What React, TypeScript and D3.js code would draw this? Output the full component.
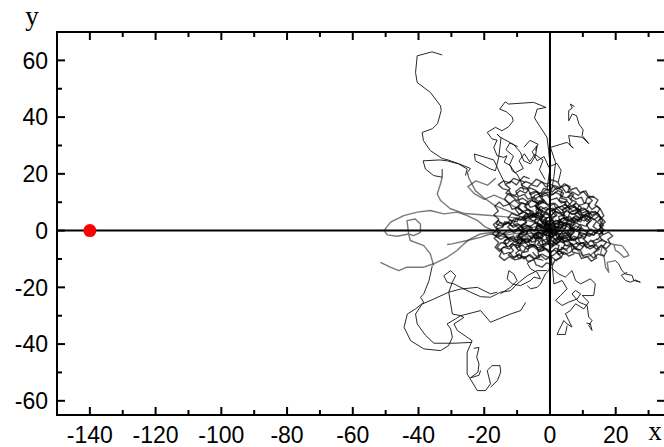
import React from "react";
import * as d3 from "d3";

type Pt = [number, number];

// Axis ranges and ticks
const xDomain: Pt = [-150, 35];
const yDomain: Pt = [-65, 70];
const xMajorTicks = [-140, -120, -100, -80, -60, -40, -20, 0, 20];
const xMinorTicks = [-150, -130, -110, -90, -70, -50, -30, -10, 10, 30];
const yMajorTicks = [-60, -40, -20, 0, 20, 40, 60];
const yMinorTicks = [-50, -30, -10, 10, 30, 50];

// Source position
const sourcePoints: Pt[] = [[-140, 0]];

// Dense tracks around the origin
const cloud1: Pt[] = [[0,0],[1.5,1.2],[3,0.4],[4.2,2.1],[3.1,3.8],[1.2,3.1],[0.3,4.9],[-1.6,4.2],[-2.4,2.3],[-4.1,1.6],[-3.5,-0.4],[-5.2,-1.5],[-4.4,-3.2],[-2.6,-2.5],[-1.4,-4.1],[0.5,-3.3],[1.9,-4.6],[3.4,-3.1],[2.6,-1.4],[4.5,-0.8],[6.1,-2.2],[7.4,-0.6],[6.3,1.1],[7.9,2.6],[6.6,4.3],[4.8,3.6],[4.1,5.5],[2.2,6.3],[0.9,7.9],[-1.1,7.2],[-2.8,8.5],[-4.3,7.1],[-3.4,5.4],[-5.6,4.6],[-7.1,6.2],[-8.4,4.5],[-7.2,2.8],[-8.9,1.4],[-7.8,-0.5],[-9.6,-1.8],[-8.5,-3.6],[-6.7,-2.9],[-6.1,-4.8],[-4.2,-5.6],[-3.3,-7.4],[-1.4,-6.5],[0.2,-7.8],[1.6,-6.2],[3.5,-6.9],[4.4,-5.1]];
const cloud2: Pt[] = [[0,0],[-1.2,-1.6],[0.6,-2.4],[2.1,-1.1],[1.4,0.8],[3.2,1.9],[2.4,3.5],[4.1,4.4],[5.8,3.2],[7.2,4.8],[8.6,3.5],[10.1,4.9],[11.3,3.2],[12.7,4.6],[14.2,3.3],[13.1,1.5],[14.6,0.2],[13.4,-1.5],[11.6,-0.8],[10.4,-2.4],[8.8,-1.3],[9.5,0.7],[7.9,1.6],[6.4,0.3],[5.1,1.7],[3.9,-0.2],[2.2,-2.8],[3.8,-4.2],[5.6,-3.6],[6.9,-5.1],[8.4,-4.2],[9.9,-5.6],[11.2,-4.1],[10.1,-2.9]];
const cloud3: Pt[] = [[0,0],[-0.8,1.9],[-2.5,0.9],[-3.9,2.8],[-2.9,4.6],[-4.6,5.9],[-6.3,4.7],[-7.5,6.6],[-9.4,5.8],[-10.6,7.7],[-9.2,9.3],[-10.8,10.8],[-12.4,9.4],[-13.8,11.2],[-12.6,13.1],[-10.7,12.4],[-9.1,14.1],[-7.3,13.2],[-6.2,15.1],[-4.3,14.2],[-3.1,12.3],[-4.8,10.9],[-3.5,9.1],[-1.7,10.2],[-0.4,8.5],[1.5,9.6],[2.8,8.1],[4.6,9.2],[5.9,7.6],[7.7,8.5],[8.9,6.8],[10.8,7.6],[11.9,5.9],[13.7,6.8],[15.1,5.4]];
const cloud4: Pt[] = [[0,0],[0.9,-1.7],[-0.6,-3.5],[1.1,-5.2],[-0.3,-6.9],[-2.1,-5.8],[-3.7,-6.9],[-5.2,-5.5],[-6.9,-6.6],[-8.4,-5.1],[-10.1,-6.2],[-11.3,-4.6],[-12.9,-5.8],[-14.2,-4.1],[-12.8,-2.6],[-14.1,-0.9],[-12.4,0.3],[-10.8,-0.8],[-9.6,0.9],[-11.1,2.5],[-10.2,4.3],[-8.1,3.6],[-6.8,5.1],[-5.3,3.4],[-3.6,4.1]];
const cloud5: Pt[] = [[0,0],[2.1,-0.6],[2.8,1.3],[4.6,0.6],[5.3,2.4],[7.1,1.8],[7.6,3.9],[9.4,3.1],[9.9,5.2],[8.4,6.4],[9.6,8.1],[8.1,9.6],[6.4,8.7],[5.2,10.4],[3.4,9.7],[2.1,11.5],[0.3,10.8],[-0.9,12.6],[-2.7,11.9],[-3.9,13.7],[-5.8,12.8],[-6.9,14.9],[-8.7,16.1],[-7.4,17.3],[-5.5,16.4],[-4.2,18.1],[-2.4,17.2],[-1.3,15.4],[0.6,16.2],[1.9,14.5],[3.7,15.3],[4.8,13.4],[6.6,14.1]];
const cloud6: Pt[] = [[0,0],[-1.9,-0.7],[-3.1,0.9],[-4.9,0.1],[-6.2,1.7],[-7.9,0.6],[-9.4,2.2],[-11.2,1.1],[-12.6,2.9],[-14.3,1.8],[-15.7,3.6],[-17.2,2.1],[-16.1,0.4],[-17.6,-1.2],[-15.8,-2.4],[-14.4,-1.1],[-12.9,-2.8],[-11.1,-1.9],[-10.3,-3.7],[-8.6,-2.6],[-7.4,-4.3],[-5.6,-3.4],[-4.7,-1.6],[-2.9,-2.3],[-2.1,-4.1]];
const cloud7: Pt[] = [[0,0],[1.3,1.9],[0.2,3.6],[1.8,5.2],[0.6,6.9],[2.3,8.4],[3.9,7.1],[5.4,8.6],[6.8,10.3],[5.5,11.9],[6.9,13.6],[8.6,12.4],[10.1,13.9],[11.4,12.1],[12.9,10.6],[11.6,9.1],[12.8,7.4],[14.3,8.7],[15.6,7.1],[16.4,5.2],[15.1,3.6],[16.3,1.8],[14.9,0.4],[16.1,-1.3],[14.6,-2.9],[12.9,-3.7],[13.8,-5.4],[12.1,-6.5],[10.6,-5.2],[9.2,-6.8],[7.4,-6.1],[6.1,-7.7],[4.3,-8.4],[2.8,-7.1],[1.1,-8.6],[-0.6,-9.4],[-2.4,-8.3],[-4.1,-9.1],[-5.3,-7.6]];
const cloud8: Pt[] = [[0,0],[-1.1,1.4],[0.4,2.2],[-0.7,3.3],[-2.2,2.6],[-3.2,4],[-1.8,5.1],[-3.1,6.4],[-4.9,5.6],[-6.1,7.2],[-7.8,8.4],[-6.7,10.1],[-8.3,11.4],[-10.1,10.6],[-11.6,12.1],[-13.4,13.2],[-12.1,14.8],[-13.6,16.2],[-11.8,17.4],[-10.2,16.1],[-9.1,17.8],[-7.5,16.9]];
const cloud9: Pt[] = [[0,0],[0.8,-1.3],[2.4,-0.9],[3.1,-2.5],[4.9,-2],[5.8,-3.6],[7.6,-3.1],[8.3,-4.8],[10.2,-4.3],[11.1,-6.1],[12.8,-5.2],[14.2,-6.7],[15.6,-5.1],[17.1,-6.4],[18.4,-4.8],[17.6,-3.1],[19.1,-1.9],[17.8,-0.5],[16.2,-1.4],[15.4,0.3],[13.9,-0.9],[12.5,0.6],[11.1,-0.7],[9.7,0.9],[8.1,-0.2],[6.8,1.3]];
const cloud10: Pt[] = [[0,0],[-0.5,-1.8],[-2.3,-1.2],[-3.4,-2.7],[-5.1,-2.1],[-6.4,-3.6],[-8.2,-2.9],[-9.1,-4.6],[-10.9,-3.8],[-12.2,-5.4],[-11.1,-7.1],[-12.7,-8.6],[-10.9,-9.7],[-9.4,-8.2],[-7.8,-9.6],[-6.1,-8.4],[-4.6,-9.9],[-2.9,-8.7],[-1.3,-10.2],[0.4,-9.1],[1.9,-10.6],[3.3,-9.2],[2.1,-7.5],[3.8,-6.2],[5.4,-7.3]];
const cloud11: Pt[] = [[0,0],[1.6,0.8],[1.1,2.6],[-0.6,2.1],[-1.4,3.8],[0.1,5.3],[-1.2,6.6],[-2.9,7.1],[-3.6,9.2],[-1.9,10.4],[-2.6,12.3],[-0.8,13.6],[0.9,12.7],[2.4,14.1],[4.1,13.2],[3.5,11.4],[5.2,10.8],[4.4,9.1],[6.1,8.4],[5.6,6.5],[7.3,5.8],[8.8,6.9],[10.1,5.3],[11.6,6.4],[12.4,4.5]];
const cloud12: Pt[] = [[0,0],[-1.4,0.6],[-1.9,-1.1],[-3.6,-0.6],[-4.3,-2.2],[-2.8,-3.4],[-3.9,-4.9],[-2.2,-5.8],[-0.7,-4.7],[0.8,-5.6],[2.3,-4.4],[1.6,-2.9],[3.4,-2.1],[4.1,-3.8],[5.9,-3.1],[6.6,-1.4],[5.2,-0.4],[6.7,0.9],[5.4,2.3],[3.9,1.6],[3.2,3.1],[1.5,2.4],[0.6,3.9],[-1.1,3.2]];
const cloud13: Pt[] = [[0,0],[1.8,-1.1],[3.5,0.2],[5.3,-0.9],[6.2,0.9],[8.1,0.4],[9.2,2.2],[11.0,1.5],[12.1,3.3],[10.6,4.8],[11.8,6.5],[10.2,7.9],[8.5,7.1],[7.3,8.8],[5.4,8.1],[4.6,9.9],[2.7,10.6],[3.5,12.4],[1.7,13.5],[0.1,12.2],[-1.6,13.4],[-3.2,12.1],[-2.1,10.4],[-3.9,9.6],[-5.6,10.7],[-6.8,9.1],[-8.6,9.8],[-9.7,8.1],[-8.3,6.6],[-9.9,5.2],[-11.6,6.1],[-12.8,4.4],[-11.4,2.9],[-12.9,1.3],[-11.3,-0.1],[-9.6,0.8],[-8.2,-0.7],[-6.4,0.1],[-5.1,-1.4],[-3.3,-0.6],[-2.2,-2.1]];
const cloud14: Pt[] = [[0,0],[-1.7,1.3],[-0.9,3.1],[-2.6,4.2],[-1.5,5.9],[0.3,5.1],[1.6,6.8],[3.4,6.1],[4.3,4.3],[6.1,4.9],[7.2,3.1],[6.0,1.5],[7.6,0.1],[6.3,-1.5],[4.5,-0.8],[3.7,-2.6],[1.9,-3.3],[0.8,-5.1],[-1.0,-4.3],[-2.8,-5.2],[-3.6,-3.4],[-5.5,-4.1],[-6.8,-2.6],[-8.6,-3.3],[-9.4,-1.4],[-7.9,0.1],[-8.8,1.9],[-7.1,3.0],[-7.9,4.8],[-6.2,6.1],[-4.4,5.4],[-3.3,7.2],[-4.6,8.8],[-3.1,10.3],[-1.3,9.5]];
const cloud15: Pt[] = [[0,0],[0.6,1.9],[2.4,1.2],[2.9,3.1],[4.8,2.5],[5.6,4.3],[4.1,5.7],[5.2,7.4],[3.6,8.6],[1.8,7.8],[1.1,9.7],[-0.8,9.2],[-1.9,10.9],[-3.7,10.3],[-4.9,11.9],[-6.7,11.1],[-7.8,12.8],[-9.6,12.0],[-10.4,13.8],[-8.9,15.2],[-7.1,14.6],[-5.8,16.2],[-3.9,15.5],[-2.7,17.1],[-0.8,16.4],[0.6,17.9],[2.4,17.1],[3.2,15.3],[5.1,16.0],[6.3,14.4],[8.0,15.1],[9.1,13.4],[10.9,14.0],[11.7,12.2],[13.5,11.6]];
const cloud16: Pt[] = [[0,0],[-2.0,0.4],[-2.8,2.2],[-4.7,2.9],[-4.1,4.8],[-5.9,5.5],[-7.4,4.1],[-9.2,4.9],[-10.1,3.1],[-12.0,3.7],[-13.4,2.2],[-15.2,2.9],[-16.3,1.2],[-15.1,-0.4],[-16.6,-1.9],[-15.0,-3.1],[-13.3,-2.1],[-12.1,-3.8],[-10.2,-3.1],[-9.3,-4.9],[-7.5,-4.2],[-6.2,-5.8],[-4.4,-5.1],[-3.5,-6.9],[-1.6,-6.2],[-0.3,-7.7],[1.5,-6.9],[2.6,-8.4],[4.4,-7.6],[5.7,-9.0],[7.5,-8.1]];
const cloud17: Pt[] = [[0,0],[1.2,-1.7],[3.0,-1.0],[4.1,-2.8],[5.9,-2.1],[7.3,-3.6],[8.7,-2.2],[10.5,-2.9],[11.4,-1.1],[13.2,-1.7],[14.5,-0.1],[15.8,1.6],[14.4,3.0],[15.6,4.7],[13.9,5.8],[12.4,4.4],[10.8,5.6],[9.3,4.1],[7.6,5.1],[6.5,3.4],[4.8,4.3],[3.4,2.8],[1.7,3.7],[0.6,2.0],[-1.2,2.8],[-2.1,1.0],[-3.9,1.7],[-4.6,-0.1],[-6.4,0.5],[-7.2,-1.3]];
const cloud18: Pt[] = [[0,0],[-0.4,-2.0],[1.4,-2.7],[0.9,-4.6],[2.8,-5.2],[2.2,-7.1],[4.1,-7.7],[3.4,-9.6],[1.6,-10.3],[0.8,-12.1],[-1.1,-11.4],[-2.4,-12.9],[-4.2,-12.1],[-4.9,-10.3],[-6.8,-10.9],[-7.7,-9.1],[-9.6,-9.7],[-10.4,-7.9],[-8.9,-6.6],[-9.8,-4.8],[-8.1,-3.9],[-8.7,-2.0],[-6.9,-1.2],[-5.6,-2.7],[-4.1,-1.4],[-2.6,-2.9],[-1.5,-1.2]];
const cloud19: Pt[] = [[0,0],[1.9,0.5],[1.3,2.4],[3.2,3.0],[2.6,4.9],[4.4,5.6],[3.7,7.5],[5.5,8.3],[6.9,6.9],[8.6,7.8],[9.8,6.2],[11.6,7.0],[12.7,5.4],[14.4,6.3],[15.5,4.6],[16.8,3.0],[15.3,1.6],[16.4,-0.1],[14.9,-1.6],[15.8,-3.4],[14.1,-4.4],[12.4,-3.4],[11.2,-5.1],[9.4,-4.3],[8.1,-5.9],[6.4,-5.0],[5.1,-6.6],[3.3,-5.8]];
const cloud20: Pt[] = [[0,0],[-1.3,-1.5],[-3.2,-0.9],[-3.9,-2.8],[-5.8,-2.3],[-6.6,-4.1],[-8.5,-3.6],[-9.2,-5.5],[-11.1,-4.9],[-12.3,-6.5],[-14.1,-5.8],[-15.3,-7.4],[-16.7,-5.9],[-15.6,-4.2],[-17.0,-2.7],[-15.5,-1.4],[-16.2,0.5],[-14.4,1.2],[-13.8,3.1],[-11.9,2.6],[-10.8,4.3],[-9.0,3.6],[-7.7,5.1],[-6.0,4.3],[-4.6,5.8],[-2.9,4.9],[-1.4,6.3],[0.3,5.3],[1.6,6.8]];
const cloud21: Pt[] = [[0,0],[0.4,2.0],[-1.5,2.6],[-1.0,4.5],[-2.9,5.2],[-2.3,7.1],[-4.2,7.8],[-3.6,9.7],[-5.4,10.5],[-4.7,12.4],[-2.8,13.1],[-1.9,14.9],[0.0,14.3],[1.2,15.9],[3.0,15.1],[4.4,16.5],[6.1,15.5],[5.4,13.6],[7.2,12.8],[6.3,11.0],[8.0,10.1],[7.0,8.4],[8.7,7.3],[7.6,5.6],[9.2,4.4],[8.1,2.7],[9.6,1.4],[8.4,-0.2],[9.8,-1.6]];
const cloud22: Pt[] = [[0,0],[1.6,-0.9],[2.2,-2.8],[4.1,-3.3],[4.6,-5.2],[6.5,-5.7],[6.9,-7.6],[8.8,-8.1],[9.6,-9.9],[11.4,-9.2],[12.6,-10.8],[14.2,-9.6],[13.4,-7.8],[15.0,-6.6],[14.0,-4.9],[12.2,-5.6],[11.1,-3.9],[9.3,-4.6],[8.5,-2.8],[6.6,-3.3],[6.0,-1.4],[4.1,-1.9],[3.4,0.0],[1.5,-0.6]];
const cloud23: Pt[] = [[0,0],[-1.8,0.9],[-1.2,2.8],[-3.0,3.6],[-2.2,5.4],[-3.9,6.4],[-5.7,5.6],[-6.5,7.4],[-8.4,6.8],[-9.7,8.3],[-11.5,7.5],[-12.3,9.3],[-14.1,8.6],[-15.4,10.1],[-16.8,8.6],[-15.7,6.9],[-17.1,5.5],[-15.6,4.1],[-16.3,2.3],[-14.5,1.5],[-13.1,2.9],[-11.6,1.6],[-9.9,2.5],[-8.6,1.0],[-6.8,1.8],[-5.5,0.3]];
const cloud24: Pt[] = [[0,0],[0.7,-1.9],[-1.1,-2.6],[-0.5,-4.5],[-2.4,-5.0],[-1.8,-6.9],[-3.7,-7.5],[-3.1,-9.4],[-4.9,-10.0],[-6.4,-8.7],[-7.9,-10.0],[-9.4,-8.6],[-11.2,-9.3],[-12.3,-7.7],[-14.1,-8.3],[-14.9,-6.4],[-13.2,-5.4],[-13.8,-3.5],[-12.0,-2.8],[-10.5,-4.1],[-9.0,-2.8],[-7.3,-3.8]];
const cloud25: Pt[] = [[0,0],[-1.0,1.8],[0.8,2.7],[0.2,4.6],[2.1,5.3],[1.4,7.2],[-0.5,7.9],[-1.6,6.2],[-3.4,7.0],[-4.1,8.9],[-6.0,8.2],[-6.9,10.0],[-5.3,11.3],[-6.2,13.1],[-4.4,13.9],[-2.6,13.0],[-1.1,14.5],[0.7,13.6],[2.0,15.1],[3.8,14.2],[3.1,12.3],[4.9,11.5],[6.6,12.4],[7.9,11.0],[9.6,11.8],[10.3,9.9],[12.1,9.4],[11.2,7.6]];
const cloud26: Pt[] = [[0,0],[1.4,1.5],[3.2,0.8],[4.0,2.6],[5.9,2.0],[6.8,-0.1],[5.3,-1.5],[6.4,-3.2],[8.3,-2.5],[9.1,-0.6],[10.9,-1.3],[12.0,0.4],[11.1,2.2],[12.6,3.6],[11.4,5.2],[9.6,4.6],[8.5,6.3],[6.7,5.7],[5.2,7.0],[3.5,6.2],[2.1,7.7],[0.3,6.9],[-1.2,8.2],[-2.9,7.4],[-4.5,8.6]];
const cloud27: Pt[] = [[0,0],[-1.6,-1.1],[-0.7,-2.9],[-2.5,-3.6],[-1.9,-5.5],[-3.8,-6.1],[-5.4,-4.9],[-7.2,-5.6],[-8.0,-7.4],[-9.8,-6.7],[-10.5,-4.9],[-9.0,-3.5],[-10.2,-1.9],[-8.6,-0.7],[-9.5,1.1],[-7.8,2.2],[-6.1,1.3],[-4.6,2.7],[-3.0,1.5],[-1.3,2.4],[0.1,1.0]];
const cloud28: Pt[] = [[0,0],[2.0,0.3],[2.7,2.2],[4.6,1.7],[5.6,3.5],[7.4,2.8],[8.7,4.3],[10.4,3.4],[11.8,4.9],[13.4,3.8],[14.9,5.1],[16.1,3.4],[15.0,1.7],[16.5,0.3],[15.1,-1.2],[13.3,-0.4],[12.1,-2.0],[10.3,-1.2],[9.0,-2.8],[7.2,-2.0],[5.8,-3.4],[4.1,-2.5],[2.7,-3.9],[1.0,-2.8]];
const cloud29: Pt[] = [[0,0],[-0.3,2.0],[-2.2,2.5],[-2.8,4.4],[-4.7,4.9],[-5.2,6.8],[-7.1,7.3],[-7.4,9.3],[-9.3,9.9],[-9.8,11.8],[-11.7,12.4],[-12.5,14.2],[-14.4,14.8],[-15.7,16.2],[-14.2,17.5],[-12.3,16.8],[-11.1,18.4],[-9.2,17.6],[-8.0,19.1],[-6.2,18.3]];
const cloud30: Pt[] = [[0,0],[0.9,1.8],[2.7,2.4],[3.6,4.2],[5.5,4.7],[6.2,6.6],[8.1,7.1],[8.9,8.9],[10.7,9.6],[11.3,11.5],[13.1,12.1],[14.6,10.8],[13.7,9.0],[15.3,7.8],[14.3,6.1],[12.5,6.8],[11.6,5.0],[9.7,5.6],[8.9,3.8],[7.0,4.3],[6.3,2.4],[4.4,2.9],[3.8,1.0],[1.9,1.4]];
const cloud31: Pt[] = [[0,0],[-1.9,-0.4],[-2.4,-2.3],[-4.3,-2.8],[-4.6,-4.8],[-6.5,-5.3],[-6.7,-7.3],[-8.6,-7.8],[-8.8,-9.8],[-10.7,-10.3],[-12.4,-9.2],[-13.9,-10.5],[-15.4,-9.1],[-14.6,-7.3],[-16.1,-5.9],[-14.9,-4.3],[-12.9,-4.6],[-12.0,-2.8],[-10.0,-3.1],[-9.3,-1.2],[-7.3,-1.5],[-6.7,0.4],[-4.7,0.0],[-3.9,1.8]];
const cloud32: Pt[] = [[0,0],[1.1,-1.7],[0.1,-3.4],[1.8,-4.6],[3.6,-3.8],[4.9,-5.3],[6.7,-4.5],[7.4,-6.4],[9.3,-6.9],[10.0,-8.8],[11.9,-8.2],[13.2,-9.7],[14.6,-8.3],[16.4,-9.0],[17.3,-7.2],[16.0,-5.7],[17.2,-4.1],[15.6,-2.9]];

// Fainter tracks leaving the cluster
const faintWest: Pt[] = [[0,0],[-4,1.5],[-8,0.5],[-12,-0.5],[-14,-1.1],[-17.1,0],[-19.6,1.2],[-22.1,3.6],[-25.2,5.3],[-28.2,6.5],[-32.3,5.9],[-36.4,7.1],[-40.4,6.5],[-44.5,5.3],[-48.5,3.0],[-50.5,0],[-49.5,-1.5],[-46.5,-2.0],[-43.0,-1.2],[-41.5,-1.8],[-39.4,-0.6],[-39.4,2.3],[-41.0,4.1],[-43.5,3.5],[-43.0,-1.2],[-42.5,-3.5],[-38.4,-5.3],[-36.4,-8.2],[-35.4,-12.3]];
const faintSouthWest: Pt[] = [[0,0],[-5,-1],[-9,-0.8],[-13,-1.5],[-17.1,-0.6],[-21.2,-1.2],[-24.2,-2.9],[-26.2,-4.7],[-28.3,-7.0],[-31.3,-9.4],[-35.4,-11.7],[-38.4,-12.9],[-43.5,-12.9],[-46.0,-14.1],[-48.6,-12.9],[-51.6,-11.2]];
const faintLow: Pt[] = [[0,0],[-6,-2],[-12,-2.5],[-18.1,-1.2],[-21.2,-2.4],[-25.2,-3.5],[-29.8,-4.7],[-31.3,-4.9]];
const faintUpperWest: Pt[] = [[0,0],[-5,3],[-10,4.5],[-15,5],[-20,5.5],[-26,6],[-30.3,7.7],[-33.3,10.6],[-34.3,12.9],[-33.3,16.5],[-32.8,18.8]];
const faintNorthWest: Pt[] = [[0,0],[-3,4],[-7,6],[-11,8.5],[-14,11],[-17,12.5],[-20,11],[-23,13],[-25,15.5],[-22.5,17.5],[-19,16],[-16.5,18.5]];
const faintLongArc: Pt[] = [[0,0],[-4,3],[-9,5],[-13,7],[-17,9],[-20,11.5],[-22.7,14.1],[-24.8,18.8]];
const faintEast: Pt[] = [[0,0],[3,-2.5],[6,-4.5],[8.5,-7],[10.3,-9.4],[12.3,-8.8],[14.4,-6.5],[15.9,-5.3],[15.4,-8.2],[16.4,-8.8],[16.9,-12.9],[17.9,-14.7],[17.4,-11.2],[19.9,-10.6]];
const faintEastLoop: Pt[] = [[14,-3],[17,-4],[19.4,-4.9],[21.9,-5.3],[23.5,-7.6],[24.0,-8.8],[22.5,-9.4],[20.9,-7.6],[19.9,-7.0],[19.4,-4.7]];
const faintSouth: Pt[] = [[0,0],[-0.5,-4],[0.4,-8],[0.15,-12.9]];

// Long tracks that escape the cluster
const trackNorthWest: Pt[] = [[-24.8,18.8],[-25.1,20.5],[-24.2,21.9],[-27.8,23.6],[-31.3,25.0],[-32.8,25.4],[-36.4,28.2],[-38.5,31.7],[-38.9,34.6],[-35.8,35.9],[-34.2,37.7],[-33.1,42.3],[-33.3,44.0],[-36.4,48.7],[-40.4,52.2],[-40.9,55.7],[-40.4,61.6],[-35.9,63.0],[-32.8,61.9]];
const trackBox: Pt[] = [[-25.7,19.4],[-25.2,21.7],[-27.8,23.5],[-31.3,24.6],[-33.5,24.9],[-38.6,24.6],[-37.9,21.7],[-35.4,19.4],[-32.8,18.8],[-32.8,21.7]];
const trackNorth: Pt[] = [[-0.9,14.1],[-0.4,18.8],[0.1,22.3],[-0.4,28.2],[-0.9,32.9],[-2.9,36.4],[-4.7,39.7],[-3.9,42.8],[-1.2,43.4],[-5.0,45.2],[-12.6,44.6],[-13.6,45.4],[-15.3,42.8],[-13.3,41.9],[-11.5,40.1],[-11.2,38.7],[-12.6,36.6],[-14.6,35.2],[-16.6,36.4],[-19.1,34.6],[-17.6,32.3],[-16.1,31.9],[-17.1,29.3],[-16.1,26.4],[-14.1,25.8],[-13.1,26.4],[-13.9,24.1],[-12.0,22.9],[-11.5,21.1],[-10.0,19.9],[-9.0,17.6],[-8.0,14.1]];
const trackNorthMid: Pt[] = [[-13.6,16.4],[-15.1,19.9],[-17.1,24.9],[-23.0,27.0],[-22.7,24.6],[-18.1,21.7],[-16.6,21.1],[-15.6,25.8],[-14.9,32.6],[-16.1,34.0],[-15.1,32.9],[-11.0,30.3],[-9.0,27.6],[-8.0,24.6],[-5.9,23.5],[-4.4,26.4],[-3.9,29.9],[-4.4,28.2]];
const trackNorthEast: Pt[] = [[0.5,14],[1.2,19],[1.7,24.0],[0.15,29.3],[5.2,31.1],[7.1,29.1],[6.2,29.9],[5.7,33.5],[9.8,32.9],[11.8,30.7],[9.8,33.5],[10.1,35.5],[8.8,37.6],[8.1,40.5],[6.8,41.1],[5.7,38.7],[5.7,42.3],[6.8,43.2],[6.2,44.6],[7.5,43.7]];
const trackZigA: Pt[] = [[-1.5,18],[-3.2,21.5],[-2.1,24.8],[-4.6,26.9],[-6.2,24.3],[-7.8,27.1],[-9.4,24.6],[-8.1,21.9],[-10.6,20.4],[-12.3,23.2],[-11.1,26.3],[-13.4,28.5],[-12.2,30.9],[-9.8,29.6]];
const trackZigB: Pt[] = [[2.5,17],[3.4,21.2],[2.1,23.7],[-0.4,22.4],[-1.8,26.1],[-3.9,24.6],[-5.4,27.8],[-3.6,30.4],[-6.1,31.8],[-7.9,29.4]];
const trackSouthWest: Pt[] = [[-0.8,-14.1],[-3.9,-14.1],[-6.9,-15.9],[-10.0,-18.8],[-12.0,-21.2],[-15.0,-21.7],[-16.0,-22.3],[-18.1,-23.5],[-21.1,-23.3],[-24.2,-21.7],[-28.2,-19.4],[-29.2,-18.8],[-31.3,-18.2],[-32.3,-15.9],[-30.2,-14.1],[-28.7,-15.9],[-29.7,-18.2],[-30.8,-21.7],[-30.2,-25.9],[-29.7,-29.4],[-27.2,-30.0],[-21.1,-28.2],[-18.1,-32.3],[-12.0,-29.4],[-8.9,-28.2],[-7.4,-25.3]];
const trackHook: Pt[] = [[-35.8,-12.4],[-36.8,-17.6],[-38.4,-22.3],[-39.4,-23.5],[-38.4,-25.3],[-40.9,-27.6],[-43.4,-29.4],[-44.4,-34.1],[-42.4,-38.8],[-38.4,-41.7],[-33.3,-42.3],[-30.8,-40.5],[-29.7,-37.6],[-30.2,-34.7],[-31.3,-32.9],[-28.7,-31.1],[-27.2,-30.0],[-26.2,-30.6],[-29.2,-32.9],[-28.2,-35.2],[-23.7,-38.8],[-25.2,-42.9],[-25.2,-50.5],[-22.1,-56.4],[-19.6,-56.4],[-18.1,-54.0],[-19.1,-49.3],[-17.6,-47.6],[-15.2,-47.6],[-15.0,-49.9],[-16.0,-52.9],[-18.1,-55.2]];
const trackHookInner: Pt[] = [[-23.2,-41.5],[-21.6,-41.2],[-22.3,-44.6],[-21.6,-47.0],[-21.9,-49.9],[-24.2,-51.9],[-21.6,-51.0],[-21.1,-49.3]];
const trackLoopWest: Pt[] = [[-23.7,-39.4],[-29.2,-39.7],[-35.3,-39.7],[-37.8,-37.0],[-40.4,-32.9],[-40.9,-29.4],[-38.9,-25.9],[-35.3,-24.1],[-30.8,-21.7],[-27.2,-20.6],[-22.1,-20.0],[-18.1,-22.3],[-16.0,-21.7]];
const trackSouthZig: Pt[] = [[-15.1,-22.3],[-12.0,-20.0],[-10.0,-17.6],[-11.0,-15.3],[-12.5,-14.1],[-13.0,-17.0],[-11.5,-18.8],[-9.0,-19.4],[-5.9,-17.6],[-4.9,-16.4],[-2.9,-17.0],[-3.9,-14.7],[-5.9,-13.5],[-6.9,-11.5],[-4.5,-9.8],[-2,-10.5]];
const trackSouthZig2: Pt[] = [[-6.9,-19.4],[-5.9,-20.5],[-3.9,-20.0],[-2.9,-18.8],[-1.4,-15.3],[-0.4,-14.1],[0.5,-11]];
const trackSouthEastA: Pt[] = [[0.15,-12.9],[2.7,-15.3],[4.7,-16.4],[6.7,-14.1],[7.8,-17.6],[9.3,-18.8],[12.3,-17.0],[13.8,-18.8],[13.3,-22.9],[9.8,-22.9],[11.8,-25.2],[10.3,-27.6],[7.8,-25.8],[6.2,-28.2],[4.7,-29.3],[5.7,-31.7],[6.7,-34.0],[5.2,-32.9],[4.2,-31.7],[2.7,-35.2],[2.2,-36.6],[4.7,-36.6],[5.2,-33.5]];
const trackSouthEastB: Pt[] = [[0.4,-9.1],[1.2,-18.8],[3.7,-17.6],[5.2,-20.5],[3.2,-22.9],[1.7,-24.6],[3.7,-26.4],[5.7,-25.2],[8.3,-24.1],[9.3,-22.3],[7.8,-21.1],[6.7,-22.3],[8.8,-25.2],[11.3,-26.4],[11.8,-30.5],[12.8,-31.7],[11.8,-33.5],[12.8,-35.2],[12.3,-32.9],[11.1,-32.6]];
const trackEast: Pt[] = [[19.9,-10.6],[20.9,-11.7],[21.9,-14.1],[23.0,-15.3],[25.0,-15.8],[25.5,-17.6],[27.5,-18.2],[26.0,-17.4],[24.5,-18.2],[23.0,-17.6],[21.7,-15.8],[23.5,-14.7]];

const cloudTracks = [cloud1, cloud2, cloud3, cloud4, cloud5, cloud6, cloud7, cloud8, cloud9, cloud10, cloud11, cloud12,
  cloud13, cloud14, cloud15, cloud16, cloud17, cloud18, cloud19, cloud20, cloud21, cloud22, cloud23, cloud24,
  cloud25, cloud26, cloud27, cloud28, cloud29, cloud30, cloud31, cloud32];
const faintTracks = [faintWest, faintSouthWest, faintLow, faintUpperWest, faintNorthWest, faintLongArc, faintEast, faintEastLoop, faintSouth];
const outerTracks = [trackNorthWest, trackBox, trackNorth, trackNorthMid, trackNorthEast, trackZigA, trackZigB,
  trackSouthWest, trackHook, trackHookInner, trackLoopWest, trackSouthZig, trackSouthZig2,
  trackSouthEastA, trackSouthEastB, trackEast];

const W = 664;
const H = 447;
const plot = { left: 57, right: 665, top: 32, bottom: 415 };

export default function App() {
  const x = d3.scaleLinear().domain(xDomain).range([plot.left, plot.right]);
  const y = d3.scaleLinear().domain(yDomain).range([plot.bottom, plot.top]);
  const line = d3.line<Pt>().x((d) => x(d[0])).y((d) => y(d[1]));

  const major = 8;
  const minor = 5;
  const tickFont = "'Liberation Sans', Arial, sans-serif";

  return (
    <svg width={W} height={H} style={{ position: "absolute", left: 0, top: 0, background: "#fff" }}>
      <defs>
        <clipPath id="plotClip">
          <rect x={plot.left} y={plot.top} width={plot.right - plot.left} height={plot.bottom - plot.top} />
        </clipPath>
        <filter id="soft" x="-5%" y="-5%" width="110%" height="110%">
          <feGaussianBlur stdDeviation="0.4" />
        </filter>
      </defs>

      <g clipPath="url(#plotClip)">
        <g filter="url(#soft)">
          {faintTracks.map((t, i) => (
            <path key={"f" + i} d={line(t) ?? ""} fill="none" stroke="#222" strokeOpacity={0.6} strokeWidth={1.4} strokeLinejoin="round" />
          ))}
          {cloudTracks.map((t, i) => (
            <path key={"c" + i} d={line(t) ?? ""} fill="none" stroke="#000" strokeOpacity={0.7} strokeWidth={1.4} strokeLinejoin="round" />
          ))}
        </g>
        {outerTracks.map((t, i) => (
          <path key={"o" + i} d={line(t) ?? ""} fill="none" stroke="#111" strokeWidth={0.9} strokeLinejoin="round" />
        ))}
        {/* reference lines through the origin */}
        <line x1={plot.left} x2={plot.right} y1={y(0)} y2={y(0)} stroke="#000" strokeWidth={2} />
        <line x1={x(0)} x2={x(0)} y1={plot.top} y2={plot.bottom} stroke="#000" strokeWidth={2} />
        {sourcePoints.map((p, i) => (
          <circle key={i} cx={x(p[0])} cy={y(p[1])} r={6.5} fill="#ff0000" />
        ))}
      </g>

      {/* frame */}
      <rect x={plot.left} y={plot.top} width={plot.right - plot.left} height={plot.bottom - plot.top} fill="none" stroke="#000" strokeWidth={2} />

      {/* x ticks, bottom and top */}
      {xMajorTicks.map((v) => (
        <g key={"xm" + v}>
          <line x1={x(v)} x2={x(v)} y1={plot.bottom} y2={plot.bottom - major} stroke="#000" strokeWidth={2} />
          <line x1={x(v)} x2={x(v)} y1={plot.top} y2={plot.top + major} stroke="#000" strokeWidth={2} />
          <text x={x(v)} y={443} textAnchor="middle" fontFamily={tickFont} fontSize={23}>{v}</text>
        </g>
      ))}
      {xMinorTicks.map((v) => (
        <g key={"xn" + v}>
          <line x1={x(v)} x2={x(v)} y1={plot.bottom} y2={plot.bottom - minor} stroke="#000" strokeWidth={2} />
          <line x1={x(v)} x2={x(v)} y1={plot.top} y2={plot.top + minor} stroke="#000" strokeWidth={2} />
        </g>
      ))}

      {/* y ticks, left and right */}
      {yMajorTicks.map((v) => (
        <g key={"ym" + v}>
          <line x1={plot.left} x2={plot.left + major} y1={y(v)} y2={y(v)} stroke="#000" strokeWidth={2} />
          <line x1={plot.right} x2={plot.right - major} y1={y(v)} y2={y(v)} stroke="#000" strokeWidth={2} />
          <text x={48} y={y(v)} dy="0.36em" textAnchor="end" fontFamily={tickFont} fontSize={23}>{v}</text>
        </g>
      ))}
      {yMinorTicks.map((v) => (
        <g key={"yn" + v}>
          <line x1={plot.left} x2={plot.left + minor} y1={y(v)} y2={y(v)} stroke="#000" strokeWidth={2} />
          <line x1={plot.right} x2={plot.right - minor} y1={y(v)} y2={y(v)} stroke="#000" strokeWidth={2} />
        </g>
      ))}

      {/* axis names */}
      <text x={32} y={25} textAnchor="middle" fontFamily="'Liberation Serif', 'Times New Roman', serif" fontSize={27}>y</text>
      <text x={655} y={440} textAnchor="middle" fontFamily="'Liberation Serif', 'Times New Roman', serif" fontSize={27}>x</text>
    </svg>
  );
}
